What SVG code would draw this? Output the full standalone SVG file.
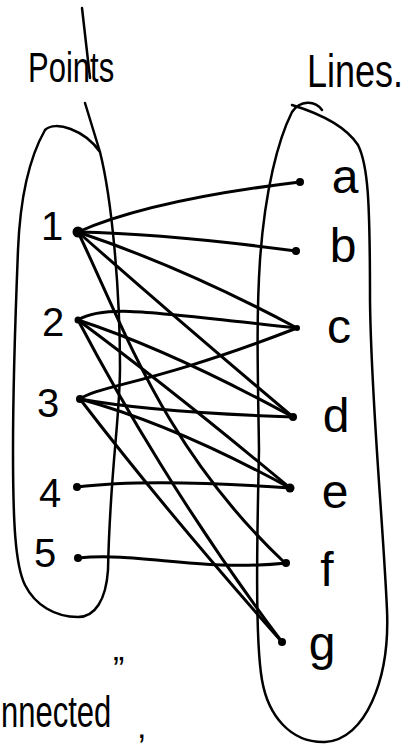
<svg xmlns="http://www.w3.org/2000/svg" width="410" height="748" viewBox="0 0 410 748">
<style>
.bg{fill:#ffffff}
.blob{fill:none;stroke:#000;stroke-width:2.5;stroke-linecap:round;stroke-linejoin:round}
.edge{fill:none;stroke:#000;stroke-width:3;stroke-linecap:round}
.dot{fill:#000}
.t{font-family:"Liberation Sans","DejaVu Sans",sans-serif;fill:#000}
.num{font-size:40px;text-anchor:middle}
.let{font-size:48px;text-anchor:middle}
</style>
<rect class="bg" x="0" y="0" width="410" height="748"/>
<g id="sets">
<path class="blob" d="M82,8 L90,78"/>
<path class="blob" d="M85,103 L100,152 C112,200 120,290 120,367 C120,420 110,470 108,570 C106,600 95,617 78,617 C55,617 35,605 25,585 C15,565 13,520 13,450 C13,380 16,300 18,250 C20,200 28,160 45,130 C55,120 85,130 100,152"/>
<path class="blob" d="M292,105 C318,113 345,125 358,145 C368,165 370,200 370,300 C371,400 383,520 387,610 C390,680 365,740 325,742 C290,743 268,715 262,680 C255,640 257,540 259,450 C258,380 256,320 260,260 C265,190 278,140 292,112 C300,100 315,100 322,110"/>
<text class="t" font-size="31" transform="translate(28,82) scale(1,1.4)">Points</text>
<text class="t" font-size="36" transform="translate(307,87) scale(1,1.3)">Lines.</text>
</g>
<g id="connectors">
<path class="edge" d="M78,232 Q150,200 300,182"/>
<path class="edge" d="M78,232 Q170,234 296,251"/>
<path class="edge" d="M78,232 Q185,268 297,328"/>
<path class="edge" d="M78,232 Q180,322 293,417"/>
<path class="edge" d="M78,232 C125,330 165,450 285,563"/>
<path class="edge" d="M78,320 C105,304 150,312 297,328"/>
<path class="edge" d="M78,320 Q170,350 293,417"/>
<path class="edge" d="M78,320 Q175,392 290,488"/>
<path class="edge" d="M78,320 C120,400 190,520 282,642"/>
<path class="edge" d="M80,399 C100,385 150,385 297,328"/>
<path class="edge" d="M80,399 Q150,412 293,417"/>
<path class="edge" d="M80,399 Q175,425 290,488"/>
<path class="edge" d="M80,399 Q165,510 282,642"/>
<path class="edge" d="M77,487 Q150,478 290,488"/>
<path class="edge" d="M78,558 C140,552 200,572 287,563"/>
</g>
<g id="p1"><circle class="dot" cx="78" cy="232" r="5.5"/><text class="t num" x="52" y="240">1</text></g>
<g id="p2"><circle class="dot" cx="78" cy="320" r="3.5"/><text class="t num" x="53" y="336">2</text></g>
<g id="p3"><circle class="dot" cx="80" cy="399" r="4"/><text class="t num" x="48" y="417">3</text></g>
<g id="p4"><circle class="dot" cx="77" cy="487" r="4"/><text class="t num" x="50" y="507">4</text></g>
<g id="p5"><circle class="dot" cx="78" cy="558" r="4"/><text class="t num" x="45" y="567">5</text></g>
<g id="la"><circle class="dot" cx="300" cy="182" r="4"/><text class="t let" x="345" y="193">a</text></g>
<g id="lb"><circle class="dot" cx="296" cy="251" r="4"/><text class="t let" x="343" y="262">b</text></g>
<g id="lc"><circle class="dot" cx="297" cy="328" r="3"/><text class="t let" x="339" y="343">c</text></g>
<g id="ld"><circle class="dot" cx="293" cy="417" r="4"/><text class="t let" x="336" y="432">d</text></g>
<g id="le"><circle class="dot" cx="290" cy="488" r="4.5"/><text class="t let" x="335" y="508">e</text></g>
<g id="lf"><circle class="dot" cx="286" cy="563" r="4"/><text class="t let" x="327" y="586">f</text></g>
<g id="lg"><circle class="dot" cx="282" cy="642" r="4"/><text class="t let" x="322" y="660">g</text></g>
<g id="note">
<text class="t" font-size="31" transform="translate(1,727) scale(1,1.45)">nnected</text>
<text class="t" x="113" y="680" font-size="34">”</text>
<text class="t" x="137" y="738" font-size="34">,</text>
</g>
</svg>
